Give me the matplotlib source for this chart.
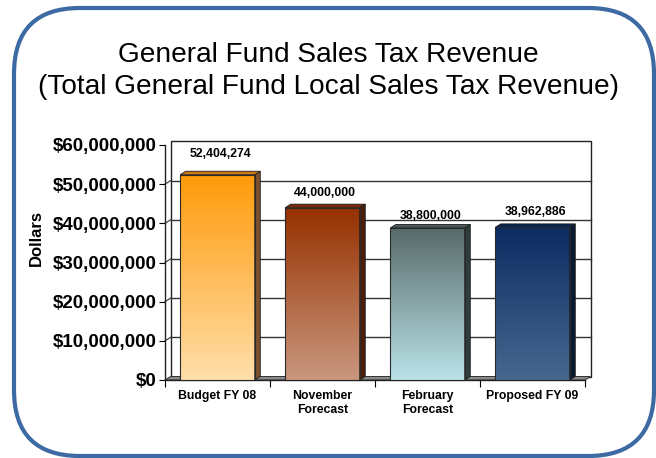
import numpy as np
import matplotlib
matplotlib.use("Agg")
import matplotlib.pyplot as plt
from matplotlib.patches import Rectangle, Polygon, FancyBboxPatch
from matplotlib.colors import to_rgb
from matplotlib.ticker import FuncFormatter

plt.rcParams['font.family'] = ['Liberation Sans', 'DejaVu Sans']

categories = ["Budget FY 08", "November\nForecast", "February\nForecast", "Proposed FY 09"]
values = [52404274, 44000000, 38800000, 38962886]
value_labels = ["52,404,274", "44,000,000", "38,800,000", "38,962,886"]
yticks = [0, 10000000, 20000000, 30000000, 40000000, 50000000, 60000000]

# colour ramps for the bar faces (top colour, bottom colour, side colour, top-face colour)
top_colors = ["#FF9A0A", "#963000", "#596A6A", "#0C2C62"]
bottom_colors = ["#FFDFAA", "#C9977E", "#B9E3E8", "#46688F"]
side_colors = ["#7A5230", "#4A1E0C", "#2F3D3D", "#0B1A30"]
cap_colors = ["#D07A15", "#7A2A08", "#4A5858", "#0A2450"]

# vertical gap (points) between each bar top and its value label
label_gaps = [10.8, 6.5, 4.3, 6.5]

W, H = 656, 458
fig = plt.figure(figsize=(W / 100, H / 100), dpi=100)

# full-figure layer in pixel units for the rounded frame
bg = fig.add_axes([0, 0, 1, 1], zorder=-5)
bg.set_xlim(0, W)
bg.set_ylim(H, 0)
bg.axis("off")
frame = FancyBboxPatch((14, 8), 654 - 14, 456 - 8,
                       boxstyle="round,pad=0,rounding_size=66",
                       facecolor="none", edgecolor="#3D6AA3", linewidth=3.0)
bg.add_patch(frame)

fig.text(0.5, 1 - 62 / H, "General Fund Sales Tax Revenue", ha="center", va="baseline",
         fontsize=20.2, color="black")
fig.text(0.5, 1 - 94 / H, "(Total General Fund Local Sales Tax Revenue)", ha="center",
         va="baseline", fontsize=20.2, color="black")

# plot area in pixels
x0, x1 = 165, 585
ytop, ybot = 145, 380
ax = fig.add_axes([x0 / W, 1 - ybot / H, (x1 - x0) / W, (ybot - ytop) / H])
ax.set_xlim(-0.5, 3.5)
ax.set_ylim(0, 60000000)

# depth offset of the 3D look, in data units
dpx, dpy = 5.5, 3.5
dx = dpx * 4 / (x1 - x0)
dy = dpy * 60000000 / (ybot - ytop)

# back wall and floor
wall = Polygon([(-0.5 + dx, dy), (3.5 + dx, dy), (3.5 + dx, 60000000 + dy),
                (-0.5 + dx, 60000000 + dy)], closed=True, facecolor="white",
               edgecolor="#222222", linewidth=1.0, clip_on=False, zorder=0)
ax.add_patch(wall)
for t in yticks[1:-1]:
    ax.plot([-0.5 + dx, 3.5 + dx], [t + dy, t + dy], color="#333333", lw=1.0,
            clip_on=False, zorder=1)
    ax.plot([-0.5, -0.5 + dx], [t, t + dy], color="#333333", lw=0.8,
            clip_on=False, zorder=1)
floor = Polygon([(-0.5, 0), (3.5, 0), (3.5 + dx, dy), (-0.5 + dx, dy)], closed=True,
                facecolor="#8A8A8A", edgecolor="#333333", linewidth=0.7,
                clip_on=False, zorder=1)
ax.add_patch(floor)

bw = 0.71
for i, v in enumerate(values):
    left, right = i - bw / 2, i + bw / 2
    c_top = np.array(to_rgb(top_colors[i]))
    c_bot = np.array(to_rgb(bottom_colors[i]))
    t = np.linspace(0, 1, 256)[:, None]
    grad = (c_top * (1 - t) + c_bot * t)[:, None, :]
    im = ax.imshow(grad, extent=(left, right, 0, v), origin="upper",
                   aspect="auto", zorder=3, interpolation="bilinear")
    rect = Rectangle((left, 0), bw, v, facecolor="none", edgecolor="#2A2A2A",
                     linewidth=0.8, zorder=4)
    ax.add_patch(rect)
    im.set_clip_path(rect)
    side = Polygon([(right, 0), (right + dx, dy), (right + dx, v + dy), (right, v)],
                   closed=True, facecolor=side_colors[i], edgecolor="#1A1A1A",
                   linewidth=0.6, zorder=3)
    cap = Polygon([(left, v), (right, v), (right + dx, v + dy), (left + dx, v + dy)],
                  closed=True, facecolor=cap_colors[i], edgecolor="#1A1A1A",
                  linewidth=0.6, zorder=3)
    ax.add_patch(side)
    ax.add_patch(cap)
    ax.annotate(value_labels[i], (i + dx / 2, v), xytext=(0, label_gaps[i]),
                textcoords="offset points", ha="center", va="bottom",
                fontsize=8.8, fontweight="bold", zorder=5)

ax.set_xlim(-0.5, 3.5)
ax.set_ylim(0, 60000000)

for s in ["top", "right"]:
    ax.spines[s].set_visible(False)
ax.spines["left"].set_color("#222222")
ax.spines["bottom"].set_color("#222222")
ax.spines["left"].set_linewidth(1.0)
ax.spines["bottom"].set_linewidth(1.0)
ax.set_facecolor("none")

ax.set_yticks(yticks)
ax.yaxis.set_major_formatter(FuncFormatter(lambda v, p: "${:,.0f}".format(v)))
ax.tick_params(axis="y", labelsize=13.5, length=4, width=0.8, pad=2)
for lbl in ax.get_yticklabels():
    lbl.set_fontweight("bold")

ax.set_xticks(np.arange(-0.5, 4.0, 1.0))
ax.set_xticklabels([])
ax.set_xticks(np.arange(len(categories)), minor=True)
ax.set_xticklabels(categories, minor=True, fontsize=8.8, fontweight="bold")
ax.tick_params(axis="x", which="major", length=5, width=0.8)
ax.tick_params(axis="x", which="minor", length=0, pad=7)

fig.text(36 / W, 1 - 238 / H, "Dollars", rotation=90, ha="center", va="center",
         fontsize=12, fontweight="bold")

fig.savefig("out.png", dpi=100)
